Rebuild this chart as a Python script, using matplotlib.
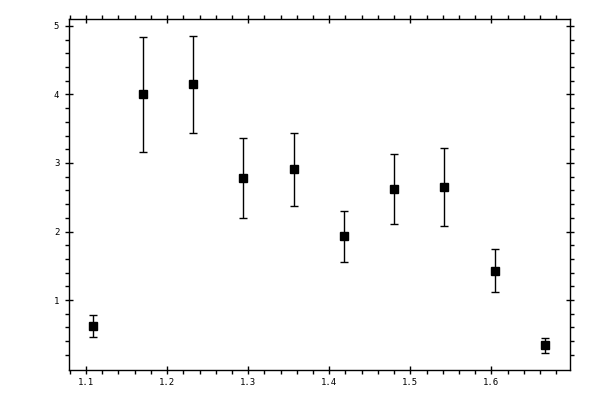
import matplotlib
matplotlib.use("Agg")
import matplotlib.pyplot as plt
from matplotlib.ticker import MultipleLocator, FixedLocator

x_vals = [1.108, 1.170, 1.232, 1.294, 1.356, 1.418, 1.480, 1.542, 1.604, 1.666]
y_vals = [0.616, 4.003, 4.149, 2.777, 2.908, 1.930, 2.616, 2.645, 1.419, 0.339]
y_upper = [0.777, 4.835, 4.858, 3.361, 3.442, 2.304, 3.127, 3.215, 1.740, 0.441]
y_lower = [0.455, 3.156, 3.434, 2.193, 2.372, 1.550, 2.105, 2.076, 1.112, 0.222]

err_lo = [y - l for y, l in zip(y_vals, y_lower)]
err_hi = [u - y for y, u in zip(y_vals, y_upper)]

fig = plt.figure(figsize=(6, 4), dpi=100)
ax = fig.add_axes([0.115, 0.075, 0.835, 0.8775])

ax.errorbar(x_vals, y_vals, yerr=[err_lo, err_hi], fmt='s', color='black',
            markersize=6, capsize=3, elinewidth=1.0, capthick=1.0, ecolor='black')

ax.set_xlim(1.079, 1.697)
ax.set_ylim(-0.02, 5.1)
ax.xaxis.set_major_locator(FixedLocator([1.1, 1.2, 1.3, 1.4, 1.5, 1.6]))
ax.xaxis.set_minor_locator(MultipleLocator(0.02))
ax.yaxis.set_major_locator(FixedLocator([1, 2, 3, 4, 5]))
ax.yaxis.set_minor_locator(FixedLocator([0.2*i for i in range(1, 26) if i % 5 != 0]))

for s in ax.spines.values():
    s.set_linewidth(1.0)

ax.tick_params(which='major', direction='inout', length=6, width=1.0,
               top=True, right=True, labelsize=6.5)
ax.tick_params(which='minor', direction='out', length=2.8, width=1.0,
               top=True, right=True)
ax.tick_params(axis='y', which='major', pad=4)
ax.tick_params(axis='x', which='major', pad=3)
for lab in ax.get_xticklabels() + ax.get_yticklabels():
    lab.set_family('DejaVu Sans Mono')

fig.savefig("out.png", dpi=100)
